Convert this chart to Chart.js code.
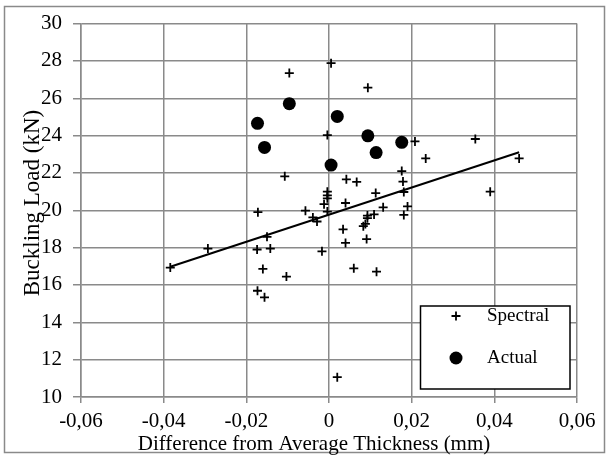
<!DOCTYPE html>
<html>
<head>
<meta charset="utf-8">
<script src="https://cdn.jsdelivr.net/npm/chart.js@4/dist/chart.umd.min.js"></script>
<style>
  html, body { margin: 0; padding: 0; background: #fff; }
  canvas { display: block; }
</style>
</head>
<body>
<canvas id="chart" width="609" height="457"></canvas>
<script>
// Spectral estimates
const spectralX = [-0.0384, -0.0293, -0.0174, -0.0142, -0.0150, -0.0160, -0.0103, -0.0173, -0.0156, -0.0172,
                   -0.0057, -0.0039, -0.0029, -0.0017, -0.0004, -0.0012, -0.0004, -0.0004, -0.0004, -0.0107,
                   -0.0004, -0.0096, 0.0005, 0.0094, 0.0208, 0.0354, 0.0234, 0.0460, 0.0176, 0.0042,
                   0.0067, 0.0179, 0.0181, 0.0113, 0.0390, 0.0040, 0.0131, 0.0190, 0.0109, 0.0093,
                   0.0181, 0.0093, 0.0088, 0.0083, 0.0034, 0.0091, 0.0040, 0.0060, 0.0115, 0.0020];
const spectralY = [16.93, 17.95, 17.90, 17.95, 18.58, 16.86, 16.45, 15.69, 15.34, 19.90,
                   19.98, 19.62, 19.40, 17.80, 19.93, 20.33, 20.64, 20.80, 21.00, 21.82,
                   24.03, 27.35, 27.88, 26.57, 23.69, 23.82, 22.78, 22.78, 22.10, 21.66,
                   21.52, 21.54, 20.98, 20.92, 21.00, 20.39, 20.16, 20.21, 19.78, 19.72,
                   19.75, 19.58, 19.27, 19.15, 18.98, 18.46, 18.25, 16.89, 16.71, 11.06];

// Actual measurements
const actualX = [-0.0173, -0.0156, -0.0096, 0.0020, 0.0005, 0.0094, 0.0114, 0.0176];
const actualY = [24.66, 23.37, 25.71, 25.03, 22.42, 23.99, 23.09, 23.64];

// Linear trend of spectral
const trendX = [-0.0384, 0.0460];
const trendY = [16.98, 23.11];

const xTicks = [-0.06, -0.04, -0.02, 0, 0.02, 0.04, 0.06];
const yTicks = [10, 12, 14, 16, 18, 20, 22, 24, 26, 28, 30];

const xTitle = 'Difference from Average Thickness (mm)';
const yTitle = 'Buckling Load (kN)';

const FONT = '"Liberation Serif", "Times New Roman", serif';
const GRID = '#8a8a8a';

function pts(xs, ys) {
    return xs.map((x, i) => ({ x: x, y: ys[i] }));
}

// frame, axis titles and legend box
const extras = {
    id: 'extras',
    beforeDraw(chart) {
        const ctx = chart.ctx;
        ctx.save();
        ctx.fillStyle = '#fff';
        ctx.fillRect(0, 0, chart.width, chart.height);
        ctx.restore();
    },
    afterDraw(chart) {
        const ctx = chart.ctx;
        ctx.save();
        ctx.strokeStyle = GRID;
        ctx.lineWidth = 1.5;
        ctx.strokeRect(4.5, 6.5, 600, 446);

        ctx.fillStyle = '#000';
        ctx.font = '21px ' + FONT;
        ctx.textAlign = 'center';
        ctx.textBaseline = 'alphabetic';
        ctx.fillText(xTitle, 314, 450);

        ctx.font = '23px ' + FONT;
        ctx.translate(39, 203);
        ctx.rotate(-Math.PI / 2);
        ctx.fillText(yTitle, 0, 0);
        ctx.restore();

        // legend
        ctx.save();
        ctx.fillStyle = '#fff';
        ctx.fillRect(420, 306, 150, 83);
        ctx.strokeStyle = '#000';
        ctx.lineWidth = 1.5;
        ctx.strokeRect(420.5, 306, 149.5, 83);
        ctx.font = '19px ' + FONT;
        ctx.textAlign = 'left';
        ctx.textBaseline = 'middle';
        ctx.fillStyle = '#000';
        const items = chart.data.datasets.filter(d => d.showInLegend);
        items.forEach((d, i) => {
            const cy = 316 + i * 42;
            ctx.strokeStyle = '#000';
            ctx.lineWidth = 1.8;
            if (d.pointStyle === 'cross') {
                ctx.beginPath();
                ctx.moveTo(456 - 4.5, cy);
                ctx.lineTo(456 + 4.5, cy);
                ctx.moveTo(456, cy - 4.5);
                ctx.lineTo(456, cy + 4.5);
                ctx.stroke();
            } else {
                ctx.beginPath();
                ctx.arc(456, cy, 6.5, 0, Math.PI * 2);
                ctx.fill();
            }
            ctx.fillText(d.label, 487, cy);
        });
        ctx.restore();
    }
};

new Chart(document.getElementById('chart'), {
    type: 'scatter',
    data: {
        datasets: [
            {
                label: 'Trend',
                type: 'line',
                data: pts(trendX, trendY),
                borderColor: '#000',
                borderWidth: 2,
                pointRadius: 0,
                fill: false,
                order: 2
            },
            {
                label: 'Spectral',
                showInLegend: true,
                data: pts(spectralX, spectralY),
                pointStyle: 'cross',
                pointRadius: 4.5,
                pointBorderWidth: 1.8,
                borderColor: '#000',
                backgroundColor: '#000',
                order: 1
            },
            {
                label: 'Actual',
                showInLegend: true,
                data: pts(actualX, actualY),
                pointStyle: 'circle',
                pointRadius: 6.5,
                pointBorderWidth: 0,
                borderColor: '#000',
                backgroundColor: '#000',
                order: 0
            }
        ]
    },
    options: {
        responsive: false,
        animation: false,
        layout: { padding: { left: 0, top: 19, right: 32, bottom: 0 } },
        plugins: {
            legend: { display: false },
            tooltip: { enabled: false }
        },
        scales: {
            x: {
                type: 'linear',
                min: xTicks[0],
                max: xTicks[xTicks.length - 1],
                afterBuildTicks: s => { s.ticks = xTicks.map(v => ({ value: v })); },
                afterFit: s => { s.height = 60; },
                grid: { color: GRID, lineWidth: 1.5, tickLength: 6, drawTicks: true },
                border: { color: GRID, width: 1.5 },
                ticks: {
                    color: '#000',
                    font: { family: FONT, size: 21 },
                    padding: 6,
                    maxRotation: 0,
                    callback: v => Math.abs(v) < 1e-9 ? '0' : v.toFixed(2).replace('.', ',')
                }
            },
            y: {
                type: 'linear',
                min: yTicks[0],
                max: yTicks[yTicks.length - 1],
                afterBuildTicks: s => { s.ticks = yTicks.map(v => ({ value: v })); },
                afterFit: s => { s.width = 81; },
                grid: { color: GRID, lineWidth: 1.5, tickLength: 8, drawTicks: true },
                border: { color: GRID, width: 1.5 },
                ticks: {
                    color: '#000',
                    font: { family: FONT, size: 21 },
                    padding: 11,
                    callback: v => String(v)
                }
            }
        }
    },
    plugins: [extras]
});
</script>
</body>
</html>
